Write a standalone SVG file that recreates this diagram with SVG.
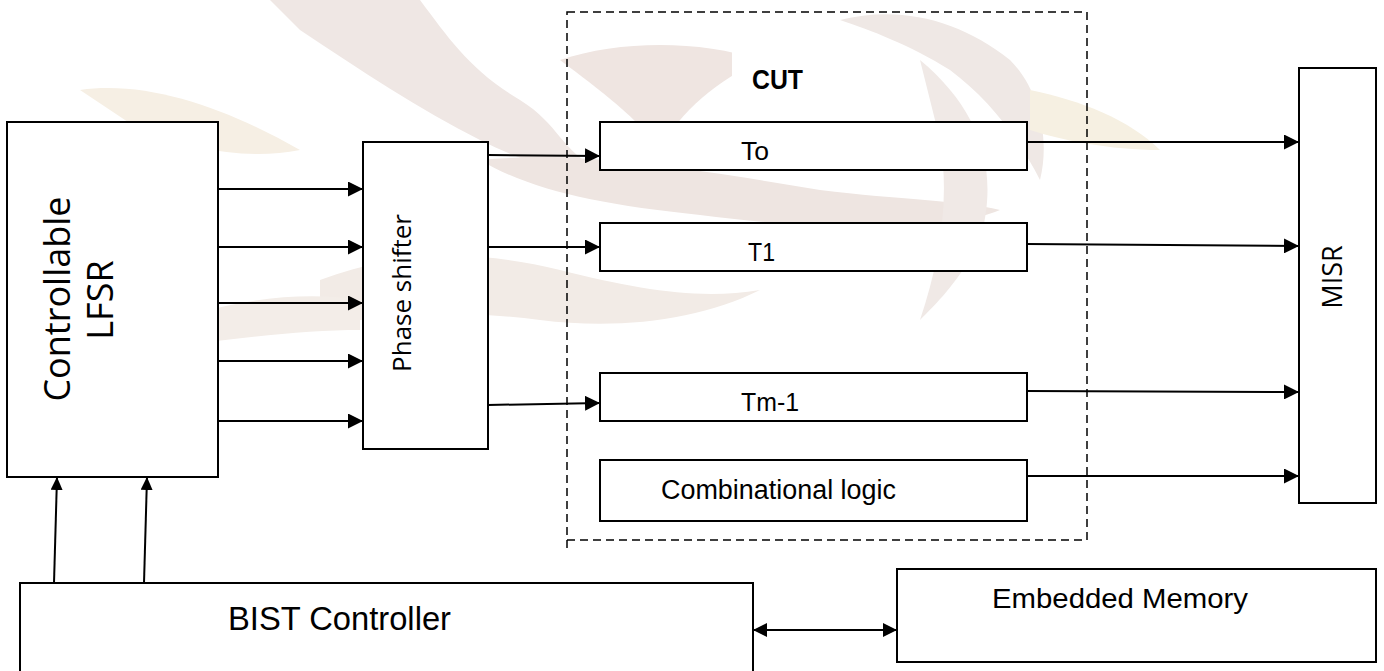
<svg xmlns="http://www.w3.org/2000/svg" width="1384" height="671" viewBox="0 0 1384 671">
<style>
.box{fill:#fff;stroke:#000;stroke-width:2}
.ln{fill:none;stroke:#000;stroke-width:2}
.sans{font-family:"Liberation Sans",Arial,sans-serif;fill:#000}
.os{font-family:"Open Sans","Noto Sans",sans-serif;fill:#000}
.wm{stroke:none}
</style>
<defs>
<marker id="arr" markerUnits="userSpaceOnUse" markerWidth="15" markerHeight="15" refX="15" refY="7.5" orient="auto">
<path d="M0,0 L15,7.5 L0,15 z" fill="#000"/>
</marker>
<marker id="arrS" markerUnits="userSpaceOnUse" markerWidth="13" markerHeight="12" refX="13" refY="6" orient="auto">
<path d="M0,0 L13,6 L0,12 z" fill="#000"/>
</marker>
<marker id="arrB" markerUnits="userSpaceOnUse" markerWidth="14" markerHeight="14" refX="14" refY="7" orient="auto-start-reverse">
<path d="M0,0 L14,7 L0,14 z" fill="#000"/>
</marker>
</defs>
<rect x="0" y="0" width="1384" height="671" fill="#fff"/>
<g id="watermark">
<path class="wm" d="M270,0 L420,0 C450,40 470,70 520,100 C560,125 560,150 600,170 C560,175 520,160 480,140 C420,110 360,70 300,30 Z" fill="#efe7e4"/>
<path class="wm" d="M560,60 C620,40 700,40 760,60 C720,80 680,110 660,150 C640,120 600,90 560,60 Z" fill="#efe5e1"/>
<path class="wm" d="M480,160 C580,150 700,170 820,190 C900,200 960,200 1000,210 C940,235 820,230 700,215 C600,205 530,190 480,160 Z" fill="#eee5e1"/>
<path class="wm" d="M840,20 C900,5 960,20 1010,60 C1040,90 1050,140 1040,180 C1020,140 990,100 950,70 C910,45 870,30 840,20 Z" fill="#efe8e5"/>
<path class="wm" d="M920,60 C980,110 1000,170 980,240 C960,280 940,300 920,320 C940,260 950,200 940,140 Z" fill="#f0e9e6"/>
<path class="wm" d="M80,90 C150,80 230,110 300,150 C250,160 190,150 140,130 Z" fill="#f6efe4"/>
<path class="wm" d="M320,280 C400,250 480,250 560,270 C640,290 700,300 760,290 C700,320 620,330 540,320 C460,310 380,310 320,330 Z" fill="#f2ebe6"/>
<path class="wm" d="M150,330 C220,300 300,290 360,300 L360,330 C300,330 220,340 150,350 Z" fill="#f3ede8"/>
<path class="wm" d="M1030,90 C1080,100 1130,120 1160,150 C1110,150 1060,140 1030,130 Z" fill="#f6f0e2"/>
</g>
<g id="cut">
<rect x="567" y="12" width="520" height="528" fill="none" stroke="#000" stroke-width="1.5" stroke-dasharray="8,5"/>
<line x1="567" y1="540" x2="567" y2="550" stroke="#000" stroke-width="1.5" stroke-dasharray="8,5"/>
<rect x="732" y="48" width="109" height="50" fill="#fff"/>
<text class="sans" x="752" y="89" font-size="28" font-weight="bold" textLength="51" lengthAdjust="spacingAndGlyphs">CUT</text>
</g>
<g id="lfsr">
<rect class="box" x="7" y="122" width="211" height="355"/>
<text class="os" font-size="36" text-anchor="middle" transform="translate(70,299) rotate(-90)">Controllable</text>
<text class="os" font-size="36" text-anchor="middle" transform="translate(113,300) rotate(-90)">LFSR</text>
</g>
<g id="phase-shifter">
<rect class="box" x="363" y="142" width="125" height="307"/>
<text class="os" font-size="26" text-anchor="middle" transform="translate(411,293) rotate(-90)">Phase shifter</text>
</g>
<g id="t0">
<rect class="box" x="600" y="122" width="427" height="48"/>
<text class="sans" x="741" y="160" font-size="26" textLength="28" lengthAdjust="spacingAndGlyphs">To</text>
</g>
<g id="t1">
<rect class="box" x="600" y="223" width="427" height="48"/>
<text class="sans" x="748" y="261" font-size="26" textLength="27" lengthAdjust="spacingAndGlyphs">T1</text>
</g>
<g id="tm1">
<rect class="box" x="600" y="373" width="427" height="48"/>
<text class="sans" x="741" y="411" font-size="26" textLength="58" lengthAdjust="spacingAndGlyphs">Tm-1</text>
</g>
<g id="comb">
<rect class="box" x="600" y="460" width="427" height="61"/>
<text class="sans" x="661" y="499" font-size="27" textLength="235" lengthAdjust="spacingAndGlyphs">Combinational logic</text>
</g>
<g id="misr">
<rect class="box" x="1299" y="68" width="77" height="435"/>
<text class="os" font-size="27" text-anchor="middle" transform="translate(1342,277) rotate(-90)">MISR</text>
</g>
<g id="bist">
<rect class="box" x="20" y="583" width="733" height="100"/>
<text class="sans" x="228" y="630" font-size="32.5" textLength="223" lengthAdjust="spacingAndGlyphs">BIST Controller</text>
</g>
<g id="memory">
<rect class="box" x="897" y="569" width="479" height="93"/>
<text class="sans" x="992" y="608" font-size="28" textLength="256" lengthAdjust="spacingAndGlyphs">Embedded Memory</text>
</g>
<g id="connectors">
<line class="ln" x1="218" y1="189" x2="363" y2="189" marker-end="url(#arr)"/>
<line class="ln" x1="218" y1="247" x2="363" y2="247" marker-end="url(#arr)"/>
<line class="ln" x1="218" y1="303" x2="363" y2="303" marker-end="url(#arr)"/>
<line class="ln" x1="218" y1="361" x2="363" y2="361" marker-end="url(#arr)"/>
<line class="ln" x1="218" y1="421" x2="363" y2="421" marker-end="url(#arr)"/>
<line class="ln" x1="488" y1="155" x2="600" y2="156" marker-end="url(#arr)"/>
<line class="ln" x1="488" y1="247" x2="600" y2="247" marker-end="url(#arr)"/>
<line class="ln" x1="488" y1="405" x2="600" y2="403" marker-end="url(#arr)"/>
<line class="ln" x1="1027" y1="142" x2="1299" y2="142" marker-end="url(#arr)"/>
<line class="ln" x1="1027" y1="244" x2="1299" y2="246" marker-end="url(#arr)"/>
<line class="ln" x1="1027" y1="391" x2="1299" y2="392" marker-end="url(#arr)"/>
<line class="ln" x1="1027" y1="476" x2="1299" y2="476" marker-end="url(#arr)"/>
<line class="ln" x1="54" y1="583" x2="57" y2="477" marker-end="url(#arrS)"/>
<line class="ln" x1="144" y1="583" x2="147" y2="477" marker-end="url(#arrS)"/>
<line class="ln" x1="753" y1="630" x2="897" y2="630" stroke-width="3" marker-start="url(#arrB)" marker-end="url(#arrB)"/>
</g>
</svg>
